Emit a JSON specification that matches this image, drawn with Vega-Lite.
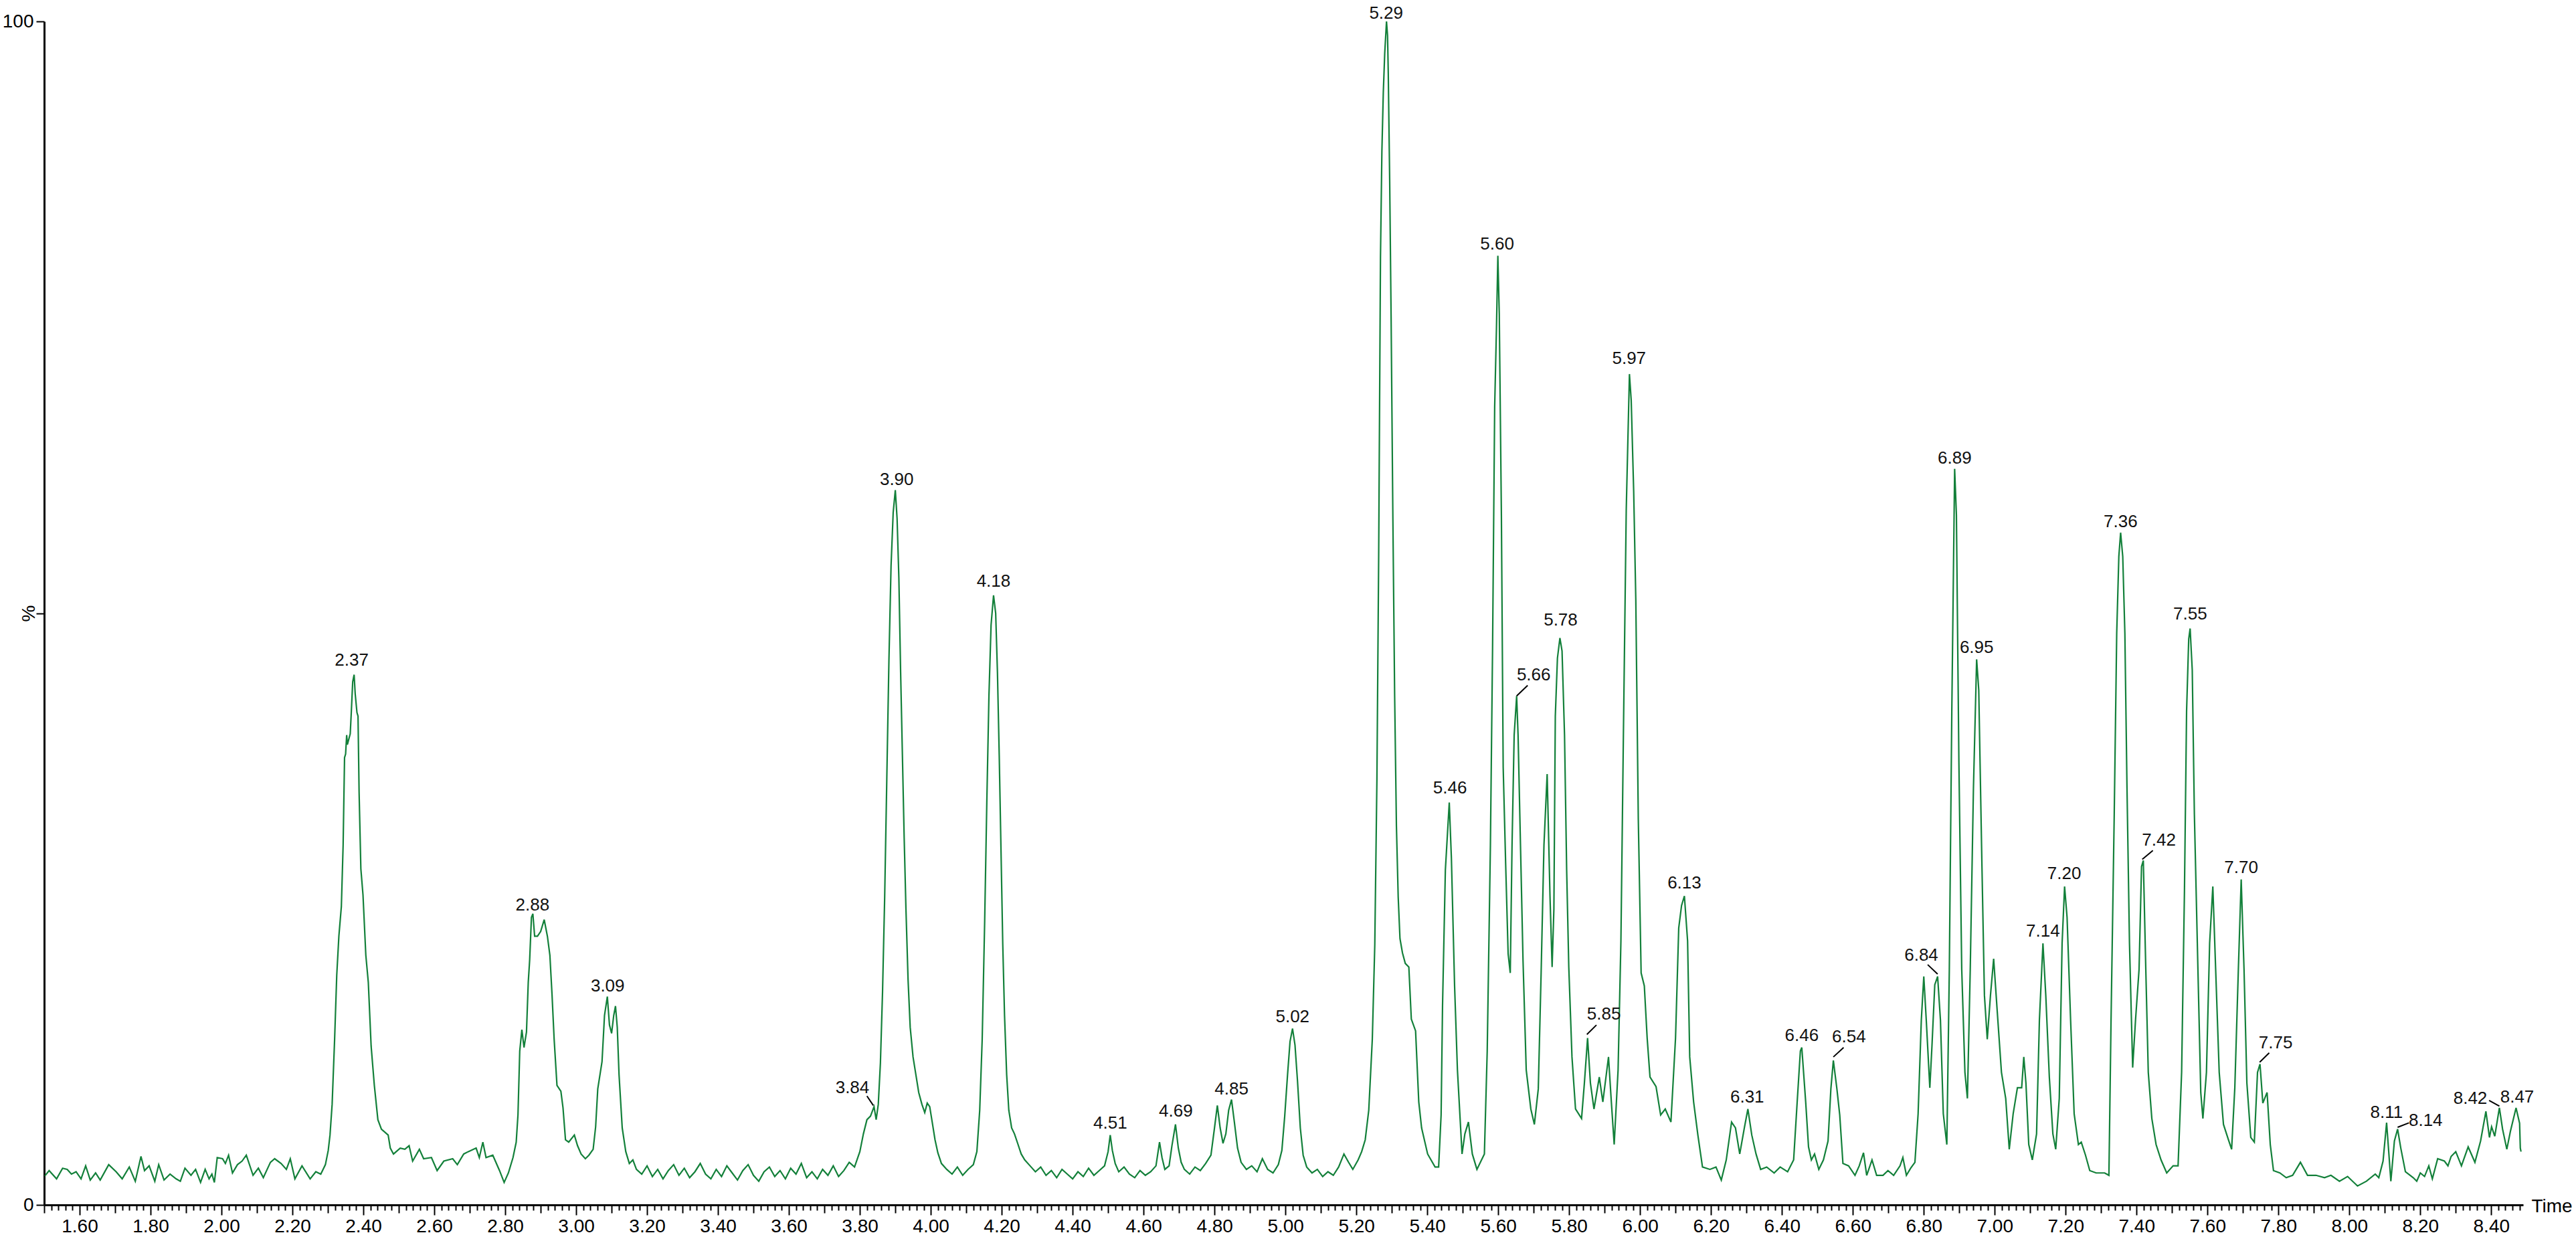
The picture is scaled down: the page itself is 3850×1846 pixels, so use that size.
{
"$schema": "https://vega.github.io/schema/vega-lite/v6.json",
"width": 3705, "height": 1769,
"autosize": {"type": "none"},
"padding": {"left": 66, "top": 32, "right": 79, "bottom": 45},
"background": "white",
"config": {"view": {"stroke": null}, "font": "Liberation Sans"},
"datasets": {
"tic": [
{"t":1.502,"v":2.45},{"t":1.514,"v":2.9},{"t":1.535,"v":2.2},{"t":1.552,"v":3.1},{"t":1.565,"v":3.0},{"t":1.577,"v":2.6},{"t":1.59,"v":2.8},{"t":1.604,"v":2.2},{"t":1.617,"v":3.3},{"t":1.63,"v":2.1},{"t":1.645,"v":2.7},{"t":1.658,"v":2.1},{"t":1.682,"v":3.4},{"t":1.703,"v":2.8},{"t":1.72,"v":2.2},{"t":1.74,"v":3.2},{"t":1.757,"v":2.0},{"t":1.773,"v":4.1},{"t":1.783,"v":2.9},{"t":1.796,"v":3.3},{"t":1.812,"v":2.0},{"t":1.823,"v":3.4},{"t":1.838,"v":2.1},{"t":1.855,"v":2.6},{"t":1.872,"v":2.2},{"t":1.884,"v":2.0},{"t":1.897,"v":3.1},{"t":1.914,"v":2.5},{"t":1.927,"v":3.0},{"t":1.941,"v":1.9},{"t":1.954,"v":3.0},{"t":1.965,"v":2.2},{"t":1.973,"v":2.6},{"t":1.98,"v":1.9},{"t":1.988,"v":4.0},{"t":2.003,"v":3.9},{"t":2.011,"v":3.5},{"t":2.02,"v":4.2},{"t":2.031,"v":2.7},{"t":2.045,"v":3.4},{"t":2.058,"v":3.7},{"t":2.07,"v":4.2},{"t":2.089,"v":2.5},{"t":2.104,"v":3.1},{"t":2.118,"v":2.3},{"t":2.138,"v":3.6},{"t":2.15,"v":3.9},{"t":2.168,"v":3.5},{"t":2.183,"v":3.0},{"t":2.194,"v":3.9},{"t":2.207,"v":2.2},{"t":2.227,"v":3.3},{"t":2.25,"v":2.2},{"t":2.266,"v":2.8},{"t":2.28,"v":2.6},{"t":2.293,"v":3.4},{"t":2.301,"v":4.6},{"t":2.306,"v":5.9},{"t":2.312,"v":8.5},{"t":2.319,"v":14.0},{"t":2.325,"v":19.4},{"t":2.331,"v":22.7},{"t":2.338,"v":25.2},{"t":2.343,"v":30.4},{"t":2.347,"v":37.8},{"t":2.35,"v":38.1},{"t":2.353,"v":39.7},{"t":2.355,"v":38.9},{"t":2.363,"v":39.8},{"t":2.366,"v":41.6},{"t":2.37,"v":44.2},{"t":2.374,"v":44.8},{"t":2.377,"v":43.2},{"t":2.382,"v":41.6},{"t":2.385,"v":41.3},{"t":2.388,"v":34.9},{"t":2.393,"v":28.4},{"t":2.399,"v":26.2},{"t":2.407,"v":21.1},{"t":2.414,"v":18.8},{"t":2.422,"v":13.4},{"t":2.431,"v":10.1},{"t":2.441,"v":7.2},{"t":2.451,"v":6.4},{"t":2.47,"v":5.9},{"t":2.476,"v":4.8},{"t":2.485,"v":4.3},{"t":2.504,"v":4.8},{"t":2.517,"v":4.7},{"t":2.529,"v":5.0},{"t":2.539,"v":3.7},{"t":2.558,"v":4.7},{"t":2.57,"v":3.9},{"t":2.592,"v":4.0},{"t":2.608,"v":2.9},{"t":2.627,"v":3.7},{"t":2.652,"v":3.9},{"t":2.665,"v":3.4},{"t":2.683,"v":4.3},{"t":2.696,"v":4.5},{"t":2.718,"v":4.8},{"t":2.727,"v":4.0},{"t":2.737,"v":5.3},{"t":2.746,"v":4.0},{"t":2.765,"v":4.2},{"t":2.784,"v":2.9},{"t":2.797,"v":1.9},{"t":2.809,"v":2.7},{"t":2.822,"v":4.0},{"t":2.831,"v":5.3},{"t":2.836,"v":7.6},{"t":2.841,"v":13.0},{"t":2.847,"v":14.8},{"t":2.853,"v":13.3},{"t":2.86,"v":14.6},{"t":2.865,"v":18.8},{"t":2.869,"v":20.7},{"t":2.874,"v":24.3},{"t":2.878,"v":24.6},{"t":2.883,"v":22.7},{"t":2.891,"v":22.7},{"t":2.9,"v":23.1},{"t":2.91,"v":24.1},{"t":2.919,"v":22.7},{"t":2.926,"v":21.1},{"t":2.932,"v":17.8},{"t":2.938,"v":14.0},{"t":2.946,"v":10.1},{"t":2.957,"v":9.6},{"t":2.963,"v":8.2},{"t":2.97,"v":5.5},{"t":2.979,"v":5.3},{"t":2.995,"v":5.9},{"t":3.004,"v":5.0},{"t":3.014,"v":4.3},{"t":3.026,"v":3.9},{"t":3.036,"v":4.2},{"t":3.048,"v":4.7},{"t":3.055,"v":6.6},{"t":3.061,"v":9.8},{"t":3.073,"v":12.1},{"t":3.08,"v":16.0},{"t":3.088,"v":17.6},{"t":3.094,"v":15.2},{"t":3.1,"v":14.5},{"t":3.106,"v":16.0},{"t":3.111,"v":16.8},{"t":3.116,"v":15.0},{"t":3.121,"v":11.0},{"t":3.13,"v":6.5},{"t":3.14,"v":4.5},{"t":3.15,"v":3.5},{"t":3.16,"v":3.8},{"t":3.17,"v":3.0},
{"t":3.185,"v":2.6},{"t":3.2,"v":3.3},{"t":3.215,"v":2.4},{"t":3.23,"v":3.0},{"t":3.245,"v":2.2},{"t":3.26,"v":2.9},{"t":3.275,"v":3.4},{"t":3.29,"v":2.5},{"t":3.305,"v":3.1},{"t":3.32,"v":2.3},{"t":3.335,"v":2.8},{"t":3.35,"v":3.5},{"t":3.365,"v":2.6},{"t":3.38,"v":2.2},{"t":3.395,"v":3.0},{"t":3.41,"v":2.4},{"t":3.425,"v":3.3},{"t":3.44,"v":2.7},{"t":3.455,"v":2.1},{"t":3.47,"v":2.9},{"t":3.485,"v":3.4},{"t":3.5,"v":2.5},{"t":3.515,"v":2.0},{"t":3.53,"v":2.8},{"t":3.545,"v":3.2},{"t":3.56,"v":2.4},{"t":3.575,"v":2.9},{"t":3.59,"v":2.2},{"t":3.605,"v":3.1},{"t":3.62,"v":2.6},{"t":3.635,"v":3.5},{"t":3.65,"v":2.3},{"t":3.665,"v":2.8},{"t":3.68,"v":2.2},{"t":3.695,"v":3.0},{"t":3.71,"v":2.5},{"t":3.725,"v":3.3},{"t":3.74,"v":2.4},{"t":3.755,"v":2.9},{"t":3.77,"v":3.6},{"t":3.785,"v":3.2},{"t":3.8,"v":4.5},{"t":3.81,"v":6.0},{"t":3.82,"v":7.2},{"t":3.83,"v":7.5},{"t":3.84,"v":8.3},{"t":3.846,"v":7.2},{"t":3.852,"v":8.5},{"t":3.858,"v":12.0},{"t":3.864,"v":18.0},{"t":3.87,"v":26.0},{"t":3.876,"v":36.0},{"t":3.882,"v":46.0},{"t":3.888,"v":54.0},{"t":3.894,"v":58.5},{"t":3.9,"v":60.4},{"t":3.905,"v":58.0},{"t":3.91,"v":53.0},{"t":3.915,"v":45.0},{"t":3.92,"v":38.0},{"t":3.925,"v":31.0},{"t":3.93,"v":25.0},{"t":3.936,"v":19.0},{"t":3.942,"v":15.0},{"t":3.95,"v":12.5},{"t":3.958,"v":11.0},{"t":3.966,"v":9.5},{"t":3.975,"v":8.5},{"t":3.983,"v":7.8},{"t":3.99,"v":8.6},{"t":3.997,"v":8.3},{"t":4.004,"v":7.0},{"t":4.012,"v":5.5},{"t":4.02,"v":4.4},{"t":4.03,"v":3.5},{"t":4.045,"v":3.0},{"t":4.06,"v":2.6},{"t":4.075,"v":3.2},{"t":4.09,"v":2.5},{"t":4.105,"v":3.0},{"t":4.12,"v":3.4},{"t":4.13,"v":4.5},{"t":4.138,"v":8.0},{"t":4.145,"v":14.0},{"t":4.152,"v":24.0},{"t":4.158,"v":34.0},{"t":4.164,"v":43.0},{"t":4.17,"v":49.0},{"t":4.177,"v":51.5},{"t":4.183,"v":50.0},{"t":4.188,"v":45.0},{"t":4.193,"v":38.0},{"t":4.198,"v":30.0},{"t":4.203,"v":22.0},{"t":4.208,"v":16.0},{"t":4.214,"v":11.0},{"t":4.22,"v":8.0},{"t":4.228,"v":6.5},{"t":4.236,"v":6.0},{"t":4.245,"v":5.2},{"t":4.255,"v":4.3},{"t":4.265,"v":3.8},{"t":4.28,"v":3.3},{"t":4.295,"v":2.8},{"t":4.31,"v":3.2},{"t":4.325,"v":2.5},{"t":4.34,"v":2.9},{"t":4.355,"v":2.3},{"t":4.37,"v":3.0},{"t":4.385,"v":2.6},{"t":4.4,"v":2.2},{"t":4.415,"v":2.8},{"t":4.43,"v":2.4},{"t":4.445,"v":3.1},{"t":4.46,"v":2.5},{"t":4.475,"v":2.9},{"t":4.49,"v":3.3},{"t":4.5,"v":4.5},{"t":4.506,"v":5.9},{"t":4.512,"v":4.6},{"t":4.52,"v":3.5},{"t":4.53,"v":2.8},{"t":4.545,"v":3.2},{"t":4.56,"v":2.6},{"t":4.575,"v":2.3},{"t":4.59,"v":2.9},{"t":4.605,"v":2.5},{"t":4.62,"v":2.8},{"t":4.635,"v":3.3},{"t":4.645,"v":5.3},{"t":4.652,"v":4.0},{"t":4.66,"v":3.0},{"t":4.672,"v":3.3},{"t":4.68,"v":5.0},{"t":4.69,"v":6.8},{"t":4.698,"v":4.8},{"t":4.706,"v":3.6},{"t":4.715,"v":3.0},{"t":4.73,"v":2.6},{"t":4.745,"v":3.2},{"t":4.76,"v":2.9},{"t":4.775,"v":3.5},{"t":4.79,"v":4.2},{"t":4.8,"v":6.5},{"t":4.808,"v":8.4},{"t":4.816,"v":6.5},{"t":4.824,"v":5.2},{"t":4.832,"v":6.0},{"t":4.84,"v":8.0},{"t":4.848,"v":8.9},{"t":4.856,"v":7.0},{"t":4.865,"v":4.8},{"t":4.875,"v":3.6},{"t":4.89,"v":3.0},{"t":4.905,"v":3.3},{"t":4.92,"v":2.8},{"t":4.935,"v":3.9},{"t":4.95,"v":3.0},{"t":4.965,"v":2.7},{"t":4.98,"v":3.4},{"t":4.99,"v":4.6},{"t":4.998,"v":7.5},{"t":5.006,"v":11.0},{"t":5.013,"v":13.8},{"t":5.02,"v":14.9},{"t":5.027,"v":13.5},{"t":5.034,"v":10.5},{"t":5.042,"v":6.5},{"t":5.05,"v":4.2},{"t":5.06,"v":3.2},{"t":5.075,"v":2.7},{"t":5.09,"v":3.0},{"t":5.105,"v":2.4},{"t":5.12,"v":2.8},{"t":5.135,"v":2.5},{"t":5.15,"v":3.2},{"t":5.165,"v":4.3},{"t":5.178,"v":3.6},{"t":5.19,"v":3.0},{"t":5.205,"v":3.8},{"t":5.215,"v":4.5},{"t":5.225,"v":5.5},{"t":5.235,"v":8.0},{"t":5.245,"v":14.0},{"t":5.252,"v":22.0},{"t":5.258,"v":36.0},{"t":5.263,"v":55.0},{"t":5.268,"v":80.0},{"t":5.272,"v":89.0},{"t":5.276,"v":94.0},{"t":5.28,"v":97.3},{"t":5.285,"v":100},{"t":5.288,"v":98.8},{"t":5.29,"v":95.6},{"t":5.294,"v":86.5},{"t":5.298,"v":75.0},{"t":5.303,"v":58.0},{"t":5.308,"v":43.0},{"t":5.313,"v":32.0},{"t":5.318,"v":26.0},{"t":5.323,"v":22.5},{"t":5.33,"v":21.3},{"t":5.338,"v":20.4},
{"t":5.348,"v":20.1},{"t":5.355,"v":15.7},{"t":5.367,"v":14.7},{"t":5.376,"v":8.7},{"t":5.384,"v":6.5},{"t":5.401,"v":4.3},{"t":5.422,"v":3.2},{"t":5.432,"v":3.2},{"t":5.439,"v":7.6},{"t":5.443,"v":16.8},{"t":5.451,"v":28.3},{"t":5.462,"v":34.0},{"t":5.468,"v":29.3},{"t":5.477,"v":18.5},{"t":5.485,"v":11.4},{"t":5.494,"v":6.5},{"t":5.498,"v":4.3},{"t":5.506,"v":6.0},{"t":5.516,"v":7.0},{"t":5.527,"v":4.3},{"t":5.54,"v":3.0},{"t":5.561,"v":4.3},{"t":5.569,"v":13.0},{"t":5.578,"v":30.4},{"t":5.584,"v":46.8},{"t":5.59,"v":67.4},{"t":5.595,"v":74.0},{"t":5.599,"v":80.2},{"t":5.603,"v":75.3},{"t":5.609,"v":58.2},{"t":5.614,"v":37.0},{"t":5.621,"v":28.8},{"t":5.628,"v":21.2},{"t":5.634,"v":19.6},{"t":5.639,"v":30.4},{"t":5.645,"v":39.7},{"t":5.652,"v":43.0},{"t":5.656,"v":39.7},{"t":5.662,"v":31.5},{"t":5.67,"v":20.6},{"t":5.679,"v":11.4},{"t":5.692,"v":8.1},{"t":5.702,"v":6.8},{"t":5.713,"v":9.8},{"t":5.721,"v":19.6},{"t":5.729,"v":30.4},{"t":5.738,"v":36.4},{"t":5.746,"v":26.1},{"t":5.752,"v":20.1},{"t":5.757,"v":25.0},{"t":5.761,"v":41.3},{"t":5.767,"v":46.2},{"t":5.774,"v":47.9},{"t":5.78,"v":46.8},{"t":5.787,"v":39.7},{"t":5.793,"v":28.3},{"t":5.799,"v":20.1},{"t":5.808,"v":12.5},{"t":5.818,"v":8.1},{"t":5.835,"v":7.3},{"t":5.843,"v":10.3},{"t":5.852,"v":14.1},{"t":5.86,"v":10.3},{"t":5.87,"v":8.1},{"t":5.885,"v":10.8},{"t":5.895,"v":8.7},{"t":5.911,"v":12.5},{"t":5.919,"v":8.7},{"t":5.927,"v":5.1},{"t":5.938,"v":11.4},{"t":5.946,"v":22.3},{"t":5.953,"v":39.7},{"t":5.961,"v":58.7},{"t":5.97,"v":70.2},{"t":5.975,"v":68.0},{"t":5.982,"v":60.3},{"t":5.988,"v":51.1},{"t":5.995,"v":32.6},{"t":6.003,"v":19.6},{"t":6.012,"v":18.5},{"t":6.02,"v":14.1},{"t":6.028,"v":10.8},{"t":6.045,"v":10.0},{"t":6.058,"v":7.6},{"t":6.071,"v":8.1},{"t":6.087,"v":7.0},{"t":6.1,"v":14.1},{"t":6.109,"v":23.4},{"t":6.117,"v":25.3},{"t":6.125,"v":26.1},{"t":6.134,"v":22.3},{"t":6.14,"v":12.5},{"t":6.151,"v":8.7},{"t":6.163,"v":5.9},{"t":6.176,"v":3.2},{"t":6.197,"v":3.0},{"t":6.214,"v":3.2},{"t":6.229,"v":2.1},{"t":6.243,"v":3.8},{"t":6.258,"v":7.0},{"t":6.269,"v":6.5},{"t":6.281,"v":4.3},{"t":6.294,"v":6.5},{"t":6.304,"v":8.1},{"t":6.315,"v":5.9},{"t":6.327,"v":4.3},{"t":6.34,"v":3.0},{"t":6.357,"v":3.2},{"t":6.378,"v":2.7},{"t":6.395,"v":3.2},{"t":6.416,"v":2.8},{"t":6.433,"v":3.8},{"t":6.443,"v":8.7},{"t":6.452,"v":13.0},{"t":6.456,"v":13.3},{"t":6.467,"v":8.7},{"t":6.475,"v":4.9},{"t":6.483,"v":3.8},{"t":6.492,"v":4.3},{"t":6.504,"v":3.0},{"t":6.517,"v":3.8},{"t":6.53,"v":5.4},{"t":6.538,"v":9.8},{"t":6.545,"v":12.2},{"t":6.555,"v":9.8},{"t":6.563,"v":7.6},{"t":6.572,"v":3.5},
{"t":6.588,"v":3.3},{"t":6.606,"v":2.5},{"t":6.618,"v":3.3},{"t":6.63,"v":4.4},{"t":6.639,"v":2.5},{"t":6.654,"v":3.8},{"t":6.667,"v":2.5},{"t":6.685,"v":2.5},{"t":6.699,"v":2.9},{"t":6.715,"v":2.5},{"t":6.733,"v":3.3},{"t":6.741,"v":4.0},{"t":6.751,"v":2.5},{"t":6.763,"v":3.1},{"t":6.775,"v":3.6},{"t":6.784,"v":7.7},{"t":6.793,"v":15.6},{"t":6.8,"v":19.3},{"t":6.807,"v":15.6},{"t":6.817,"v":9.9},{"t":6.823,"v":13.4},{"t":6.831,"v":18.6},{"t":6.839,"v":19.3},{"t":6.847,"v":15.6},{"t":6.855,"v":7.7},{"t":6.865,"v":5.1},{"t":6.872,"v":19.9},{"t":6.879,"v":41.7},{"t":6.887,"v":62.2},{"t":6.892,"v":58.3},{"t":6.899,"v":37.4},{"t":6.907,"v":19.9},{"t":6.916,"v":11.2},{"t":6.923,"v":9.0},{"t":6.931,"v":19.9},{"t":6.94,"v":35.2},{"t":6.949,"v":46.1},{"t":6.955,"v":43.5},{"t":6.964,"v":28.6},{"t":6.971,"v":17.7},{"t":6.979,"v":14.0},{"t":6.988,"v":17.7},{"t":6.997,"v":20.8},{"t":7.007,"v":16.4},{"t":7.019,"v":11.2},{"t":7.031,"v":9.0},{"t":7.041,"v":4.7},{"t":7.052,"v":7.7},{"t":7.064,"v":9.9},{"t":7.076,"v":9.9},{"t":7.082,"v":12.5},{"t":7.088,"v":10.3},{"t":7.096,"v":5.1},{"t":7.106,"v":3.8},{"t":7.118,"v":6.0},{"t":7.126,"v":15.6},{"t":7.136,"v":22.1},{"t":7.144,"v":17.7},{"t":7.154,"v":10.8},{"t":7.164,"v":6.0},{"t":7.172,"v":4.7},{"t":7.182,"v":9.0},{"t":7.19,"v":22.1},{"t":7.197,"v":26.9},{"t":7.204,"v":24.3},{"t":7.214,"v":15.6},{"t":7.224,"v":7.7},{"t":7.236,"v":5.1},{"t":7.244,"v":5.3},{"t":7.256,"v":4.2},{"t":7.268,"v":2.9},{"t":7.286,"v":2.7},{"t":7.31,"v":2.7},{"t":7.322,"v":2.5},{"t":7.328,"v":15.6},{"t":7.337,"v":33.0},{"t":7.344,"v":48.3},{"t":7.35,"v":54.8},{"t":7.355,"v":56.8},{"t":7.361,"v":54.8},{"t":7.367,"v":48.3},{"t":7.373,"v":35.2},{"t":7.38,"v":22.1},{"t":7.389,"v":11.6},{"t":7.397,"v":15.6},{"t":7.407,"v":19.9},{"t":7.414,"v":28.6},{"t":7.419,"v":29.1},{"t":7.426,"v":19.9},{"t":7.433,"v":11.2},{"t":7.443,"v":7.3},{"t":7.455,"v":5.1},{"t":7.469,"v":3.8},{"t":7.485,"v":2.7},{"t":7.503,"v":3.3},{"t":7.517,"v":3.3},{"t":7.527,"v":11.2},{"t":7.535,"v":26.5},{"t":7.541,"v":41.7},{"t":7.547,"v":47.8},{"t":7.551,"v":48.7},{"t":7.557,"v":45.2},{"t":7.563,"v":33.0},{"t":7.573,"v":19.9},{"t":7.581,"v":9.5},{"t":7.587,"v":7.3},{"t":7.597,"v":11.2},{"t":7.606,"v":22.1},{"t":7.615,"v":26.9},{"t":7.623,"v":19.9},{"t":7.633,"v":11.2},{"t":7.645,"v":6.8},{"t":7.659,"v":5.5},{"t":7.668,"v":4.7},{"t":7.677,"v":9.9},{"t":7.687,"v":19.9},{"t":7.695,"v":27.5},{"t":7.703,"v":19.9},{"t":7.711,"v":10.3},{"t":7.722,"v":5.7},{"t":7.732,"v":5.3},{"t":7.741,"v":11.2},{"t":7.748,"v":11.9},{"t":7.756,"v":8.6},{"t":7.768,"v":9.5},{"t":7.777,"v":5.1},{"t":7.786,"v":2.9},{"t":7.804,"v":2.7},{"t":7.822,"v":2.3},{"t":7.84,"v":2.5},{"t":7.862,"v":3.6},{"t":7.882,"v":2.5},{"t":7.906,"v":2.5},{"t":7.93,"v":2.3},{"t":7.948,"v":2.5},{"t":7.972,"v":2.0},
{"t":7.995,"v":2.4},{"t":8.023,"v":1.6},{"t":8.048,"v":2.0},{"t":8.073,"v":2.6},{"t":8.083,"v":2.3},{"t":8.095,"v":3.7},{"t":8.105,"v":6.95},{"t":8.11,"v":4.9},{"t":8.117,"v":2.0},{"t":8.127,"v":5.4},{"t":8.136,"v":6.4},{"t":8.145,"v":4.8},{"t":8.158,"v":2.8},{"t":8.18,"v":2.3},{"t":8.19,"v":2.0},{"t":8.2,"v":2.7},{"t":8.212,"v":2.4},{"t":8.224,"v":3.3},{"t":8.234,"v":2.2},{"t":8.249,"v":3.9},{"t":8.268,"v":3.7},{"t":8.278,"v":3.3},{"t":8.287,"v":4.1},{"t":8.3,"v":4.5},{"t":8.316,"v":3.3},{"t":8.335,"v":4.9},{"t":8.354,"v":3.6},{"t":8.37,"v":5.4},{"t":8.385,"v":7.9},{"t":8.395,"v":5.7},{"t":8.401,"v":6.6},{"t":8.41,"v":5.8},{"t":8.423,"v":8.2},{"t":8.432,"v":6.4},{"t":8.444,"v":4.7},{"t":8.454,"v":6.2},{"t":8.47,"v":8.2},{"t":8.48,"v":6.9},{"t":8.482,"v":4.8},{"t":8.484,"v":4.5}
],
"pk": [
{"t":2.367,"v":46.0,"s":"2.37"},{"t":2.877,"v":25.3,"s":"2.88"},{"t":3.089,"v":18.5,"s":"3.09"},{"t":3.779,"v":9.9,"s":"3.84"},{"t":3.904,"v":61.3,"s":"3.90"},{"t":4.177,"v":52.7,"s":"4.18"},{"t":4.506,"v":6.9,"s":"4.51"},{"t":4.691,"v":7.9,"s":"4.69"},{"t":4.848,"v":9.8,"s":"4.85"},{"t":5.02,"v":15.9,"s":"5.02"},{"t":5.284,"v":100.7,"s":"5.29"},{"t":5.464,"v":35.2,"s":"5.46"},{"t":5.597,"v":81.2,"s":"5.60"},{"t":5.7,"v":44.75,"s":"5.66"},{"t":5.776,"v":49.4,"s":"5.78"},{"t":5.898,"v":16.1,"s":"5.85"},{"t":5.969,"v":71.5,"s":"5.97"},{"t":6.125,"v":27.2,"s":"6.13"},{"t":6.302,"v":9.1,"s":"6.31"},{"t":6.456,"v":14.3,"s":"6.46"},{"t":6.589,"v":14.2,"s":"6.54"},{"t":6.793,"v":21.1,"s":"6.84"},{"t":6.887,"v":63.1,"s":"6.89"},{"t":6.949,"v":47.1,"s":"6.95"},{"t":7.136,"v":23.1,"s":"7.14"},{"t":7.196,"v":28.0,"s":"7.20"},{"t":7.355,"v":57.7,"s":"7.36"},{"t":7.463,"v":30.8,"s":"7.42"},{"t":7.551,"v":49.9,"s":"7.55"},{"t":7.695,"v":28.5,"s":"7.70"},{"t":7.792,"v":13.7,"s":"7.75"},{"t":8.105,"v":7.8,"s":"8.11"},{"t":8.215,"v":7.1,"s":"8.14"},{"t":8.341,"v":9.0,"s":"8.42"},{"t":8.473,"v":9.1,"s":"8.47"}
],
"ld": [
{"t1":3.82,"v1":9.2,"t2":3.838,"v2":8.4},{"t1":5.683,"v1":43.9,"t2":5.652,"v2":43.0},{"t1":5.877,"v1":15.2,"t2":5.85,"v2":14.4},{"t1":6.574,"v1":13.3,"t2":6.545,"v2":12.5},{"t1":6.811,"v1":20.3,"t2":6.839,"v2":19.5},{"t1":7.446,"v1":29.95,"t2":7.416,"v2":29.2},{"t1":7.774,"v1":12.85,"t2":7.747,"v2":12.05},{"t1":8.136,"v1":6.56,"t2":8.168,"v2":6.93},{"t1":8.394,"v1":8.82,"t2":8.423,"v2":8.35}
]
},
"layer": [
{"data": {"name": "tic"},
 "mark": {"type": "line", "color": "#13803a", "strokeWidth": 2.2},
 "encoding": {
  "x": {"field": "t", "type": "quantitative",
   "scale": {"domain": [1.5, 8.49], "nice": false, "zero": false},
   "axis": {"orient": "bottom", "title": "Time", "titleFont": "Liberation Sans", "titleFontSize": 28, "titleFontWeight": "normal", "titleColor": "#000", "titleAlign": "left", "titleBaseline": "middle", "titleAnchor": null, "titleX": 3717, "titleY": 2, "titleAngle": 0,
    "grid": false, "domainColor": "#000", "domainWidth": 3, "tickColor": "#000", "tickWidth": 2, "tickCount": 350,
    "tickSize": {"condition": [{"test": "round(datum.value*100) % 20 == 0", "value": 15}, {"test": "round(datum.value*100) % 10 == 0", "value": 12}], "value": 8},
    "labelExpr": "round(datum.value*100) % 20 == 0 ? format(datum.value, '.2f') : ''",
    "labelFont": "Liberation Sans", "labelFontSize": 28, "labelColor": "#000", "labelPadding": 3, "labelOverlap": false, "labelFlush": false, "labelBound": false}},
  "y": {"field": "v", "type": "quantitative",
   "scale": {"domain": [0, 100], "nice": false, "zero": true},
   "axis": {"title": "%", "titleFont": "Liberation Sans", "titleFontSize": 28, "titleFontWeight": "normal", "titleColor": "#000", "titleAngle": 270, "titleAlign": "center", "titleBaseline": "middle", "titleAnchor": null, "titleX": -23, "titleY": 884.5,
    "values": [0, 50, 100], "grid": false, "domainColor": "#000", "domainWidth": 3, "tickColor": "#000", "tickWidth": 2, "tickSize": 12,
    "labelExpr": "datum.value == 50 ? '' : datum.label",
    "labelFont": "Liberation Sans", "labelFontSize": 28, "labelColor": "#000", "labelPadding": 4, "labelFlush": false, "labelBound": false}}
 }},
{"data": {"name": "ld"},
 "mark": {"type": "rule", "color": "#000", "strokeWidth": 2},
 "encoding": {"x": {"field": "t1", "type": "quantitative"}, "y": {"field": "v1", "type": "quantitative"}, "x2": {"field": "t2"}, "y2": {"field": "v2"}}},
{"data": {"name": "pk"},
 "mark": {"type": "text", "font": "Liberation Sans", "fontSize": 26, "color": "#111", "align": "center", "baseline": "middle"},
 "encoding": {"x": {"field": "t", "type": "quantitative"}, "y": {"field": "v", "type": "quantitative"}, "text": {"field": "s"}}}
]
}
